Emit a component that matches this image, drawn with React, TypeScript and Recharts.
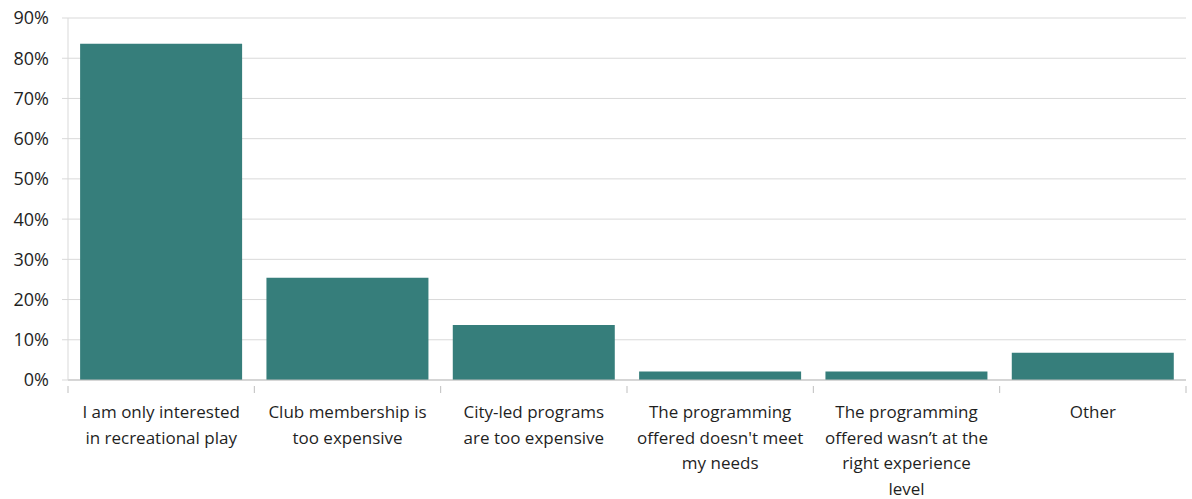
import { Bar, BarChart, CartesianGrid, XAxis, YAxis } from 'recharts';

const categories = [
  'I am only interested\nin recreational play',
  'Club membership is\ntoo expensive',
  'City-led programs\nare too expensive',
  "The programming\noffered doesn't meet\nmy needs",
  'The programming\noffered wasn\u2019t at the\nright experience\nlevel',
  'Other',
];
const shares = [83.6, 25.4, 13.7, 2.1, 2.1, 6.8];
const yTicks = [0, 10, 20, 30, 40, 50, 60, 70, 80, 90];

const data = categories.map((c, i) => ({ name: c, value: shares[i] }));

const FONT = '"Open Sans", "Noto Sans", sans-serif';
const AXIS = '#bfbfbf';

function CategoryTick(props: any) {
  const { x, y, payload, index } = props;
  const half = payload.offset || 0;
  const lines = String(payload.value).split('\n');
  return (
    <g>
      <line x1={x - half} x2={x - half} y1={y - 8} y2={y - 1} stroke={AXIS} />
      {index === categories.length - 1 && (
        <line x1={x + half} x2={x + half} y1={y - 8} y2={y - 1} stroke={AXIS} />
      )}
      <text x={x} y={y} textAnchor="middle" fill="#1f1f1f" fontSize={17} fontFamily={FONT}>
        {lines.map((l, i) => (
          <tspan key={i} x={x} dy={i === 0 ? 24 : 25.5}>
            {l}
          </tspan>
        ))}
      </text>
    </g>
  );
}

export default function App() {
  return (
    <div style={{ position: 'absolute', left: 0, top: 0, width: 1192, height: 499 }}>
      <BarChart
        width={1192}
        height={499}
        data={data}
        margin={{ top: 18, right: 6, left: 8, bottom: 0 }}
        barCategoryGap="6.5%"
      >
        <CartesianGrid vertical={false} stroke="#d9d9d9" />
        <XAxis
          dataKey="name"
          height={119}
          interval={0}
          axisLine={{ stroke: AXIS }}
          tickLine={false}
          tickMargin={8}
          tick={<CategoryTick />}
        />
        <YAxis
          width={60}
          domain={[0, 90]}
          ticks={yTicks}
          interval={0}
          axisLine={{ stroke: '#d9d9d9' }}
          tickLine={{ stroke: '#d9d9d9' }}
          tickSize={6}
          tickMargin={13}
          tickFormatter={(v: number) => `${v}%`}
          tick={{ fill: '#1f1f1f', fontSize: 18, fontFamily: FONT }}
        />
        <Bar dataKey="value" fill="#367e7b" isAnimationActive={false} />
      </BarChart>
    </div>
  );
}
